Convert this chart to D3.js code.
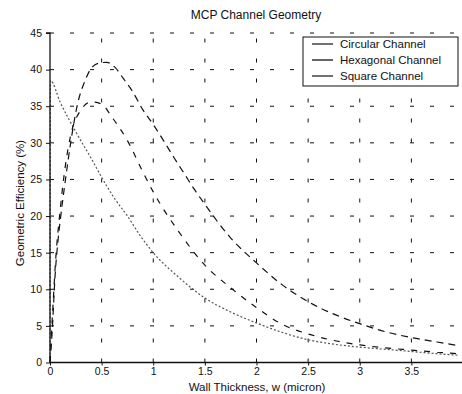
<!DOCTYPE html>
<html>
<head>
<meta charset="utf-8">
<script src="https://cdn.jsdelivr.net/npm/d3@7"></script>
<style>
  body { margin: 0; background: #fff; }
  svg { display: block; font-family: "Liberation Sans", Arial, sans-serif; }
</style>
</head>
<body>
<svg id="chart" width="462" height="394"></svg>
<script>
// values
const xTicks = [0, 0.5, 1, 1.5, 2, 2.5, 3, 3.5];
const yTicks = [0, 5, 10, 15, 20, 25, 30, 35, 40, 45];

const circX = [0, 0.02, 0.05, 0.08, 0.1, 0.15, 0.2, 0.27, 0.34, 0.4, 0.48, 0.55, 0.63, 0.71, 0.8, 0.9, 1.0, 1.1, 1.2, 1.3, 1.4, 1.5, 1.75, 2.0, 2.25, 2.5, 2.75, 3.0, 3.25, 3.5, 3.75, 3.95];
const circY = [0, 4, 12, 17, 19.5, 25, 30, 35.5, 38.5, 40.2, 40.9, 41, 40.3, 38.8, 37, 34.5, 32.5, 30.3, 28, 25.8, 23.6, 21.6, 17, 13.6, 10.6, 8.3, 6.6, 5.3, 4.2, 3.4, 2.8, 2.3];

const hexX = [0, 0.005, 0.1, 0.25, 0.41, 0.5, 0.63, 0.75, 0.87, 1.0, 1.25, 1.5, 1.75, 2.0, 2.25, 2.5, 2.75, 3.0, 3.25, 3.5, 3.75, 3.95];
const hexY = [0, 38.5, 35.5, 31.5, 27.6, 25.3, 22.3, 20.0, 17.4, 15.0, 11.6, 8.8, 6.9, 5.4, 4.1, 3.1, 2.5, 2.1, 1.8, 1.5, 1.2, 1.0];

const sqX = [0, 0.01, 0.03, 0.05, 0.1, 0.15, 0.2, 0.3, 0.4, 0.5, 0.6, 0.75, 0.9, 1.0, 1.25, 1.5, 1.75, 2.0, 2.25, 2.5, 2.75, 3.0, 3.25, 3.5, 3.75, 3.95];
const sqY = [0, 3, 8, 13, 21, 27, 31, 34.5, 35.6, 35.3, 33.5, 30.3, 26, 23.3, 17.8, 13.3, 10.2, 7.5, 5.2, 3.9, 3.0, 2.4, 2.0, 1.7, 1.4, 1.2];

const seriesNames = ["Circular Channel", "Hexagonal Channel", "Square Channel"];

const series = [
  { name: seriesNames[0], xs: circX, ys: circY, color: "#111", width: 1.2, dash: "7,5" },
  { name: seriesNames[1], xs: hexX, ys: hexY, color: "#555", width: 1.2, dash: "2,2" },
  { name: seriesNames[2], xs: sqX, ys: sqY, color: "#111", width: 1.2, dash: "6,7" }
];

const svg = d3.select("#chart");

const x = d3.scaleLinear().domain([0, 4]).range([50, 463]);
const y = d3.scaleLinear().domain([0, 45]).range([362.5, 33]);

// grid
const grid = svg.append("g").attr("class", "grid")
  .attr("stroke", "#111").attr("stroke-width", 1).attr("stroke-dasharray", "4,16");

grid.selectAll("line.v")
  .data(xTicks.filter(d => d > 0))
  .join("line")
  .attr("x1", d => x(d)).attr("x2", d => x(d))
  .attr("y1", y(0)).attr("y2", y(45));

grid.selectAll("line.h")
  .data(yTicks.filter(d => d > 0))
  .join("line")
  .attr("x1", x(0)).attr("x2", x(4))
  .attr("y1", d => y(d)).attr("y2", d => y(d));

// curves
const line = d3.line()
  .x(d => x(d[0]))
  .y(d => y(d[1]))
  .curve(d3.curveMonotoneX);

svg.append("g").attr("class", "curves")
  .selectAll("path")
  .data(series)
  .join("path")
  .attr("fill", "none")
  .attr("stroke", d => d.color)
  .attr("stroke-width", d => d.width)
  .attr("stroke-dasharray", d => d.dash)
  .attr("d", d => line(d.xs.map((v, i) => [v, d.ys[i]])));

// axes
const xAxis = svg.append("g")
  .attr("transform", `translate(0,${y(0)})`)
  .call(d3.axisBottom(x).tickValues(xTicks).tickSize(3).tickPadding(2).tickFormat(d3.format("")));

const yAxis = svg.append("g")
  .attr("transform", `translate(${x(0)},0)`)
  .call(d3.axisLeft(y).tickValues(yTicks).tickSize(4).tickFormat(d3.format("")));

[xAxis, yAxis].forEach(a => {
  a.select(".domain").attr("stroke", "#111").attr("stroke-width", 1.3);
  a.selectAll(".tick line").attr("stroke", "#111");
  a.selectAll(".tick text")
    .attr("fill", "#111")
    .attr("font-size", 10.5)
    .attr("font-family", "'Liberation Sans', Arial, sans-serif");
});
yAxis.select(".domain").attr("d", `M-4,${y(45)}H0V${y(0)}`);
xAxis.select(".domain").attr("d", `M${x(0)},0H${x(4)}`);
yAxis.selectAll(".tick text").attr("x", -8);

// titles
svg.append("text")
  .attr("x", 256).attr("y", 19)
  .attr("text-anchor", "middle")
  .attr("font-size", 12)
  .attr("fill", "#111")
  .text("MCP Channel Geometry");

svg.append("text")
  .attr("x", 257).attr("y", 391)
  .attr("text-anchor", "middle")
  .attr("font-size", 11.5)
  .attr("fill", "#111")
  .text("Wall Thickness, w (micron)");

svg.append("text")
  .attr("transform", "translate(24,203) rotate(-90)")
  .attr("text-anchor", "middle")
  .attr("font-size", 11.5)
  .attr("fill", "#111")
  .text("Geometric Efficiency (%)");

// legend
const legend = svg.append("g").attr("class", "legend");
legend.append("rect")
  .attr("x", 303).attr("y", 37)
  .attr("width", 155).attr("height", 49)
  .attr("fill", "#fff")
  .attr("stroke", "#111")
  .attr("stroke-width", 1);

const rows = legend.selectAll("g.row")
  .data(series)
  .join("g")
  .attr("class", "row")
  .attr("transform", (d, i) => `translate(0,${44 + i * 16})`);

rows.append("line")
  .attr("x1", 312).attr("x2", 333)
  .attr("y1", 0).attr("y2", 0)
  .attr("stroke", d => d.color)
  .attr("stroke-width", (d, i) => i === 1 ? 1.8 : 1.2);

rows.append("text")
  .attr("x", 340).attr("y", 0)
  .attr("dy", "0.35em")
  .attr("font-size", 11.5)
  .attr("fill", "#111")
  .text(d => d.name);
</script>
</body>
</html>
